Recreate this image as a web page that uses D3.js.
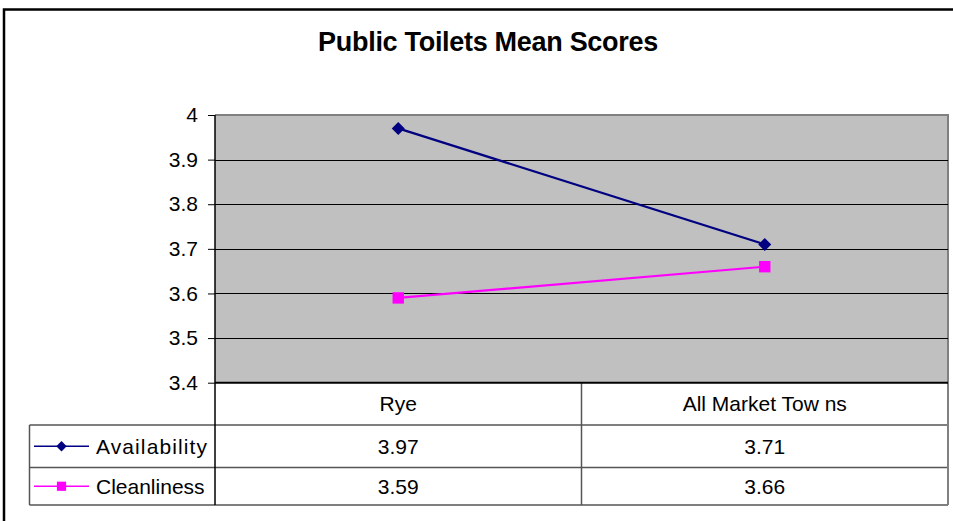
<!DOCTYPE html>
<html><head><meta charset="utf-8">
<script src="https://cdn.jsdelivr.net/npm/d3@7"></script>
<style>body{margin:0;background:#fff}svg{display:block}</style>
</head><body>
<script>
const categories = ["Rye", "All Market Tow ns"];
const seriesNames = ["Availability", "Cleanliness"];
const availability = [3.97, 3.71];
const cleanliness = [3.59, 3.66];
const tickValues = [3.4, 3.5, 3.6, 3.7, 3.8, 3.9, 4];
const colors = ["#000080", "#ff00ff"];

const W = 953, H = 521;
const FONT = "'Liberation Sans', Arial, sans-serif";
const FS = 21;
const svg = d3.select("body").append("svg").attr("width", W).attr("height", H)
  .style("font-family", FONT);

const plot = {left: 215, right: 948, top: 115, bottom: 382.7};
const tableRows = [382.7, 425, 467.5, 505];
const tableLeft = 29.5;

// marker shapes
const diamond = r => `M0,${-r}L${r},0L0,${r}L${-r},0Z`;
const square = r => `M${-r},${-r}H${r}V${r}H${-r}Z`;
const markers = [diamond, square];
const plotMarkerR = [6.5, 5.7];
const legendMarkerR = [5.2, 4.6];

// outer border
svg.append("rect").attr("x", 4).attr("y", 9.5).attr("width", 970).attr("height", 540)
  .attr("fill", "none").attr("stroke", "#000").attr("stroke-width", 2.5);

// title
svg.append("text").attr("x", 488).attr("y", 51).attr("text-anchor", "middle")
  .attr("font-weight", "bold").attr("font-size", 27).attr("letter-spacing", -0.3)
  .text("Public Toilets Mean Scores");

const x = d3.scaleBand().domain(categories).range([plot.left, plot.right]);
const y = d3.scaleLinear().domain([3.4, 4]).range([plot.bottom, plot.top]);

// plot background
svg.append("rect").attr("x", plot.left).attr("y", plot.top)
  .attr("width", plot.right - plot.left).attr("height", plot.bottom - plot.top)
  .attr("fill", "#c0c0c0");
// plot border (gray top/right)
svg.append("path").attr("d", `M${plot.left},${plot.top}H${plot.right}V${plot.bottom}`)
  .attr("fill", "none").attr("stroke", "#808080").attr("stroke-width", 2);

// gridlines
svg.append("g").selectAll("line").data(tickValues.filter(t => t > 3.4 && t < 4)).join("line")
  .attr("x1", plot.left).attr("x2", plot.right)
  .attr("y1", d => Math.round(y(d)) + 0.5).attr("y2", d => Math.round(y(d)) + 0.5)
  .attr("stroke", "#000").attr("stroke-width", 1);

// y axis
const yAxis = d3.axisLeft(y).tickValues(tickValues).tickSize(7).tickPadding(10)
  .tickFormat(d => d3.format("")(+d.toFixed(1)));
const ga = svg.append("g").attr("transform", `translate(${plot.left},0)`).call(yAxis);
ga.select(".domain").remove();
ga.selectAll("text").attr("font-size", FS).attr("fill", "#000").style("font-family", FONT);
ga.selectAll("line").attr("stroke", "#000");

// table lines
const tl = svg.append("g").attr("stroke", "#555").attr("stroke-width", 1.5);
tableRows.slice(1).forEach(r => {
  tl.append("line").attr("x1", tableLeft).attr("x2", plot.right).attr("y1", r).attr("y2", r);
});
tl.append("line").attr("x1", tableLeft).attr("x2", tableLeft).attr("y1", tableRows[1]).attr("y2", tableRows[3]);
tl.append("line").attr("x1", x(categories[1])).attr("x2", x(categories[1])).attr("y1", plot.bottom).attr("y2", tableRows[3]);
tl.append("line").attr("x1", plot.right).attr("x2", plot.right).attr("y1", plot.bottom).attr("y2", tableRows[3]).attr("stroke", "#808080").attr("stroke-width", 2);

// y axis line and x axis line
svg.append("line").attr("x1", plot.left).attr("x2", plot.left).attr("y1", plot.top).attr("y2", tableRows[3])
  .attr("stroke", "#000").attr("stroke-width", 1.5);
svg.append("line").attr("x1", plot.left).attr("x2", plot.right).attr("y1", plot.bottom).attr("y2", plot.bottom)
  .attr("stroke", "#000").attr("stroke-width", 2);

// category labels
svg.append("g").selectAll("text").data(categories).join("text")
  .attr("x", d => x(d) + x.bandwidth() / 2).attr("y", (tableRows[0] + tableRows[1]) / 2 + 7.5)
  .attr("text-anchor", "middle").attr("font-size", FS).text(d => d);

const seriesData = [availability, cleanliness];

seriesData.forEach((vals, i) => {
  const rowMid = (tableRows[i + 1] + tableRows[i + 2]) / 2;
  // values
  svg.append("g").selectAll("text").data(vals).join("text")
    .attr("x", (d, j) => x(categories[j]) + x.bandwidth() / 2).attr("y", rowMid + 7.5)
    .attr("text-anchor", "middle").attr("font-size", FS).text(d => d.toFixed(2));
  // legend key
  svg.append("line").attr("x1", 34).attr("x2", 89).attr("y1", rowMid).attr("y2", rowMid)
    .attr("stroke", colors[i]).attr("stroke-width", 1.5);
  svg.append("path").attr("d", markers[i](legendMarkerR[i]))
    .attr("transform", `translate(61.5,${rowMid})`).attr("fill", colors[i]);
  svg.append("text").attr("x", 96).attr("y", rowMid + 7.5).attr("font-size", FS)
    .attr("letter-spacing", i === 0 ? 1.1 : 0).text(seriesNames[i]);

  // line
  const line = d3.line().x((d, j) => x(categories[j]) + x.bandwidth() / 2).y(d => y(d));
  svg.append("path").datum(vals).attr("d", line).attr("fill", "none")
    .attr("stroke", colors[i]).attr("stroke-width", 2.2);
  svg.append("g").selectAll("path").data(vals).join("path")
    .attr("d", markers[i](plotMarkerR[i]))
    .attr("transform", (d, j) => `translate(${x(categories[j]) + x.bandwidth() / 2},${y(d)})`)
    .attr("fill", colors[i]);
});
</script>
</body></html>
